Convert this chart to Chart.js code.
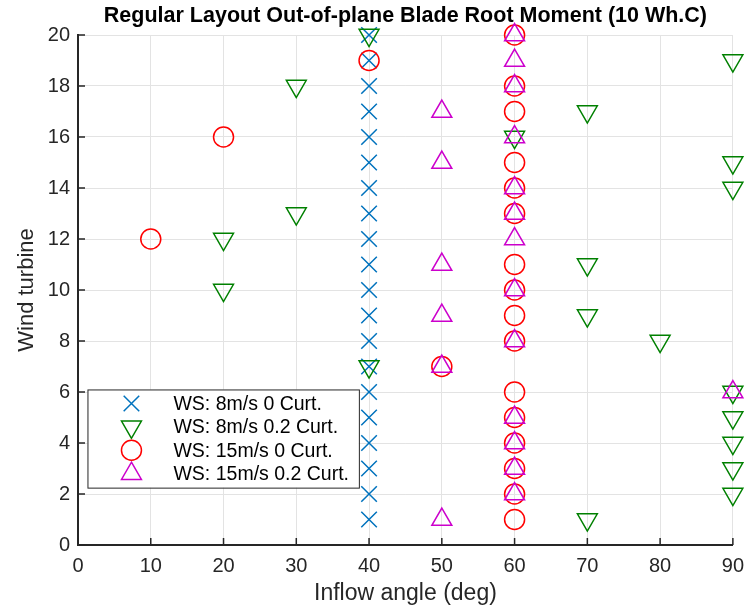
<!DOCTYPE html>
<html>
<head>
<meta charset="utf-8">
<script src="https://cdn.jsdelivr.net/npm/chart.js@4/dist/chart.umd.min.js"></script>
<style>
  html, body { margin: 0; padding: 0; background: #ffffff; }
  #wrap { position: relative; width: 753px; height: 607px; }
</style>
</head>
<body>
<div id="wrap"><canvas id="chart"></canvas></div>
<script>
// Wind turbine index (y) and the inflow angle (deg) at which each case peaks
const turbines = [1, 2, 3, 4, 5, 6, 7, 8, 9, 10, 11, 12, 13, 14, 15, 16, 17, 18, 19, 20];
const ws8Curt0   = [40, 40, 40, 40, 40, 40, 40, 40, 40, 40, 40, 40, 40, 40, 40, 40, 40, 40, 40, 40];
const ws8Curt02  = [70, 90, 90, 90, 90, 90, 40, 80, 70, 20, 70, 20, 30, 90, 90, 60, 70, 30, 90, 40];
const ws15Curt0  = [60, 60, 60, 60, 60, 60, 50, 60, 60, 60, 60, 10, 60, 60, 60, 20, 60, 60, 40, 60];
const ws15Curt02 = [50, 60, 60, 60, 60, 90, 50, 60, 50, 60, 50, 60, 60, 60, 50, 60, 50, 60, 60, 60];

const seriesLabels = ['WS: 8m/s 0 Curt.', 'WS: 8m/s 0.2 Curt.', 'WS: 15m/s 0 Curt.', 'WS: 15m/s 0.2 Curt.'];
const xTicks = [0, 10, 20, 30, 40, 50, 60, 70, 80, 90];
const yTicks = [0, 2, 4, 6, 8, 10, 12, 14, 16, 18, 20];

const FONT = '"Liberation Sans", Arial, Helvetica, sans-serif';
const AXIS_COLOR = '#262626';
const GRID_COLOR = '#e3e3e3';

function toPoints(angles) {
  return angles.map((a, i) => ({ x: a, y: turbines[i] }));
}

const markerStyles = [
  { color: '#0072BD', pointStyle: 'crossRot', radius: 11, rotation: 0 },
  { color: '#008000', pointStyle: 'triangle', radius: 11.5, rotation: 180 },
  { color: '#FF0000', pointStyle: 'circle', radius: 10, rotation: 0 },
  { color: '#CC00CC', pointStyle: 'triangle', radius: 11.5, rotation: 0 }
];
const seriesData = [ws8Curt0, ws8Curt02, ws15Curt0, ws15Curt02];

// later series are drawn on top of earlier ones
const datasets = seriesData.map((vals, i) => ({
  label: seriesLabels[i],
  data: toPoints(vals),
  order: seriesData.length - i,
  clip: false,
  showLine: false,
  pointStyle: markerStyles[i].pointStyle,
  pointRotation: markerStyles[i].rotation,
  pointRadius: markerStyles[i].radius,
  pointHoverRadius: markerStyles[i].radius,
  pointBorderColor: markerStyles[i].color,
  pointBackgroundColor: 'rgba(0,0,0,0)',
  pointBorderWidth: 1.5,
  borderColor: markerStyles[i].color,
  backgroundColor: 'rgba(0,0,0,0)'
}));

// Inward tick marks on the left and bottom axes
const inwardTicks = {
  id: 'inwardTicks',
  beforeDatasetsDraw(chart) {
    const { ctx, chartArea, scales } = chart;
    ctx.save();
    ctx.strokeStyle = AXIS_COLOR;
    ctx.lineWidth = 1.5;
    ctx.beginPath();
    xTicks.forEach(v => {
      const px = scales.x.getPixelForValue(v);
      ctx.moveTo(px, chartArea.bottom);
      ctx.lineTo(px, chartArea.bottom - 7);
    });
    yTicks.forEach(v => {
      const py = scales.y.getPixelForValue(v);
      ctx.moveTo(chartArea.left, py);
      ctx.lineTo(chartArea.left + 7, py);
    });
    ctx.stroke();
    ctx.restore();
  }
};

// Boxed legend sitting inside the lower-left part of the axes
const insideLegend = {
  id: 'insideLegend',
  afterDraw(chart) {
    const { ctx, scales } = chart;
    const left = scales.x.getPixelForValue(1.3);
    const right = scales.x.getPixelForValue(38.6);
    const top = scales.y.getPixelForValue(6.1);
    const bottom = scales.y.getPixelForValue(2.25);
    ctx.save();
    ctx.fillStyle = '#ffffff';
    ctx.fillRect(left, top, right - left, bottom - top);
    ctx.strokeStyle = AXIS_COLOR;
    ctx.lineWidth = 1;
    ctx.strokeRect(left + 0.5, top + 0.5, right - left, bottom - top);
    const rowH = (bottom - top - 28) / 3;
    const items = seriesLabels.map((label, i) => ({ label, style: markerStyles[i] }));
    items.forEach((item, i) => {
      const cy = top + 14 + i * rowH;
      const mx = left + 44;
      ctx.strokeStyle = item.style.color;
      ctx.fillStyle = 'rgba(0,0,0,0)';
      ctx.lineWidth = 1.5;
      Chart.helpers.drawPoint(ctx, {
        pointStyle: item.style.pointStyle,
        rotation: item.style.rotation,
        radius: item.style.radius,
        borderWidth: 1.5
      }, mx, cy);
      ctx.fillStyle = '#000000';
      ctx.font = '19.5px ' + FONT;
      ctx.textAlign = 'left';
      ctx.textBaseline = 'middle';
      ctx.fillText(item.label, left + 86, cy + 1);
    });
    ctx.restore();
  }
};

new Chart(document.getElementById('chart'), {
  type: 'scatter',
  data: { datasets },
  options: {
    responsive: true,
    maintainAspectRatio: false,
    animation: false,
    devicePixelRatio: 1,
    layout: { padding: { top: 0, right: 19, bottom: 0, left: 0 } },
    plugins: {
      legend: { display: false },
      tooltip: { enabled: false },
      title: {
        display: true,
        fullSize: false,
        text: 'Regular Layout Out-of-plane Blade Root Moment (10 Wh.C)',
        color: '#000000',
        font: { family: FONT, size: 21.5, weight: 'bold' },
        padding: { top: 3, bottom: 6.2 }
      }
    },
    scales: {
      x: {
        type: 'linear',
        min: 0,
        max: 90,
        afterBuildTicks(scale) { scale.ticks = xTicks.map(v => ({ value: v })); },
        afterFit(scale) { scale.height = 62; },
        ticks: {
          color: AXIS_COLOR,
          font: { family: FONT, size: 20 },
          padding: 9,
          maxRotation: 0,
          autoSkip: false
        },
        grid: { color: GRID_COLOR, lineWidth: 1, drawTicks: false },
        border: { display: true, color: AXIS_COLOR, width: 2 },
        title: {
          display: true,
          text: 'Inflow angle (deg)',
          color: AXIS_COLOR,
          font: { family: FONT, size: 23 },
          padding: { top: 0, bottom: 0 }
        }
      },
      y: {
        type: 'linear',
        min: 0,
        max: 20,
        afterBuildTicks(scale) { scale.ticks = yTicks.map(v => ({ value: v })); },
        afterFit(scale) { scale.width = 78; },
        ticks: {
          color: AXIS_COLOR,
          font: { family: FONT, size: 20 },
          padding: 8,
          autoSkip: false
        },
        grid: { color: GRID_COLOR, lineWidth: 1, drawTicks: false },
        border: { display: true, color: AXIS_COLOR, width: 2 },
        title: {
          display: true,
          text: 'Wind turbine',
          color: AXIS_COLOR,
          font: { family: FONT, size: 22 },
          padding: { top: 14, bottom: 0 }
        }
      }
    }
  },
  plugins: [inwardTicks, insideLegend]
});
</script>
</body>
</html>
